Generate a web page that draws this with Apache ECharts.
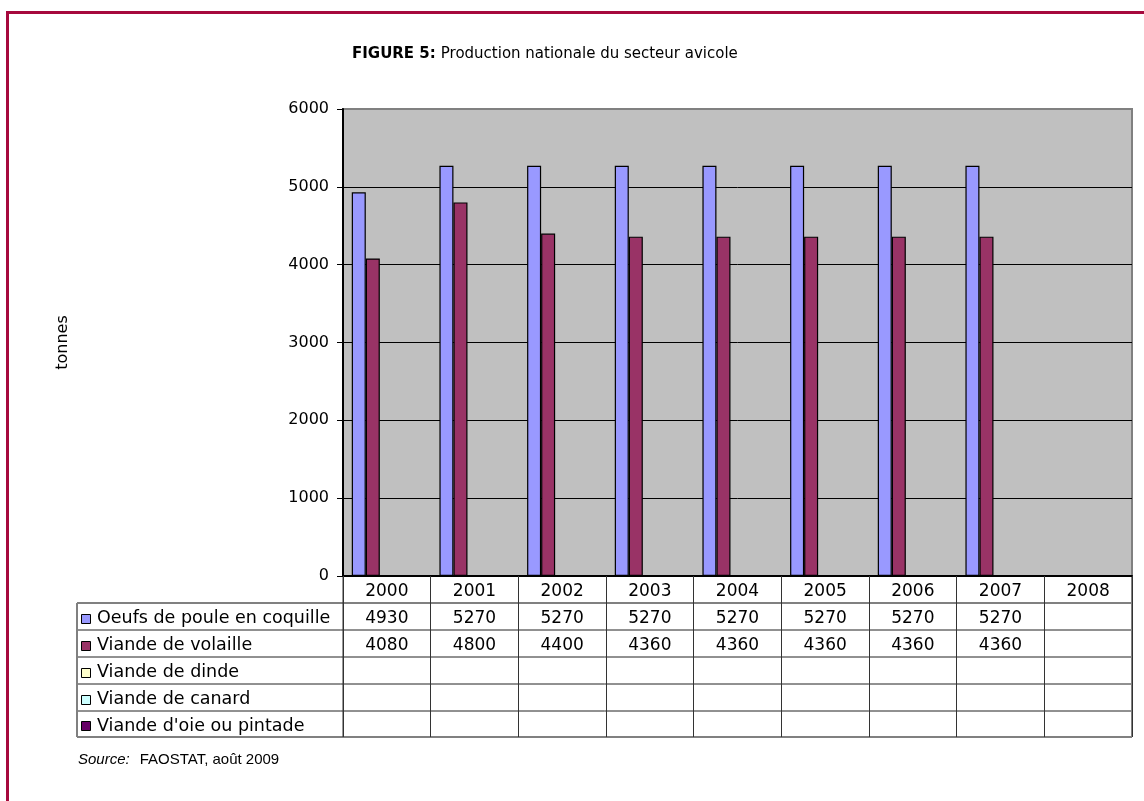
<!DOCTYPE html>
<html>
<head>
<meta charset="utf-8">
<script src="https://cdn.jsdelivr.net/npm/echarts@6/dist/echarts.min.js"></script>
<style>
html,body{margin:0;padding:0;background:#fff;}
#c{width:1144px;height:801px;}
</style>
</head>
<body>
<div id="c"></div>
<script>
const years = ['2000','2001','2002','2003','2004','2005','2006','2007','2008'];
const oeufs = [4930,5270,5270,5270,5270,5270,5270,5270,null];
const volaille = [4080,4800,4400,4360,4360,4360,4360,4360,null];
const dinde = [null,null,null,null,null,null,null,null,null];
const canard = [null,null,null,null,null,null,null,null,null];
const oie = [null,null,null,null,null,null,null,null,null];
const seriesNames = ['Oeufs de poule en coquille','Viande de volaille','Viande de dinde','Viande de canard',"Viande d'oie ou pintade"];
const seriesColors = ['#9999ff','#993366','#ffffcc','#ccffff','#660066'];
const seriesData = [oeufs, volaille, dinde, canard, oie];
const yMin = 0, yMax = 6000, yStep = 1000;

const FONT = 'DejaVu Sans';
const chart = echarts.init(document.getElementById('c'), null, {renderer:'canvas'});

const gridL = 343, gridT = 109, gridW = 789, gridH = 467;
const rowEdges = [576, 603, 630, 657, 684, 711, 737];
const nLines = Math.round((yMax - yMin) / yStep) + 1;
const splitColors = [];
for (let i = 0; i < nLines; i++) splitColors.push(i === nLines - 1 ? '#808080' : '#000');

chart.setOption({
  animation: false,
  title: {
    text: '{b|FIGURE 5:} {n|Production nationale du secteur avicole}',
    left: 347, top: 40,
    textStyle: { rich: {
      b: {fontFamily: FONT, fontWeight: 'bold', fontSize: 15, color: '#000'},
      n: {fontFamily: FONT, fontWeight: 'normal', fontSize: 15, color: '#000'}
    }}
  },
  grid: { left: gridL, top: gridT, width: gridW, height: gridH, show: true,
          backgroundColor: '#c0c0c0', borderColor: '#808080', borderWidth: 2 },
  xAxis: {
    type: 'category', data: years,
    axisLine: {show: true, lineStyle: {color: '#000', width: 2}},
    axisTick: {show: true, length: rowEdges[6] - rowEdges[0], lineStyle: {color: '#333', width: 1}},
    axisLabel: {fontFamily: FONT, fontSize: 17, color: '#000', margin: 7},
    splitLine: {show: false}
  },
  yAxis: {
    type: 'value', min: yMin, max: yMax, interval: yStep,
    name: 'tonnes', nameLocation: 'middle', nameGap: 272, nameRotate: 90,
    nameTextStyle: {fontFamily: FONT, fontSize: 16, color: '#000'},
    axisLine: {show: true, lineStyle: {color: '#000', width: 2}},
    axisTick: {show: true, length: 6, lineStyle: {color: '#000'}},
    axisLabel: {fontFamily: FONT, fontSize: 16, color: '#000', margin: 14, formatter: v => String(v)},
    splitLine: {show: true, lineStyle: {color: splitColors, width: 1}}
  },
  series: seriesData.map((d, i) => ({
    type: 'bar', name: seriesNames[i], data: d,
    barGap: '0%', barCategoryGap: '20%',
    itemStyle: {color: seriesColors[i], borderColor: '#000', borderWidth: 1.2}
  }))
});

const g = [];
const tableLeft = 77;
const right = gridL + gridW;
for (let r = 1; r < rowEdges.length; r++) {
  const outer = (r === 1 || r === rowEdges.length - 1);
  g.push({type:'line', shape:{x1: tableLeft, y1: rowEdges[r], x2: right, y2: rowEdges[r]},
          style:{stroke: outer ? '#808080' : '#222', lineWidth: outer ? 2 : 1}});
}
g.push({type:'line', shape:{x1: tableLeft, y1: rowEdges[1], x2: tableLeft, y2: rowEdges[6]}, style:{stroke:'#808080', lineWidth:2}});
g.push({type:'line', shape:{x1: right, y1: rowEdges[0], x2: right, y2: rowEdges[6]}, style:{stroke:'#808080', lineWidth:2}});
g.push({type:'line', shape:{x1: gridL, y1: rowEdges[0], x2: gridL, y2: rowEdges[6]}, style:{stroke:'#333', lineWidth:1}});
seriesNames.forEach((name, i) => {
  const yc = (rowEdges[i+1] + rowEdges[i+2]) / 2 + 2;
  g.push({type:'rect', shape:{x: 81.5, y: Math.round(yc) - 4.5, width: 9, height: 9},
          style:{fill: seriesColors[i], stroke:'#000', lineWidth:1}});
  g.push({type:'text', x: 97, y: yc, style:{text: name, font: '17.5px "' + FONT + '"', fill:'#000', textVerticalAlign:'middle', textAlign:'left'}});
  seriesData[i].forEach((v, j) => {
    if (v === null || v === undefined) return;
    const xc = chart.convertToPixel({xAxisIndex:0}, j);
    g.push({type:'text', x: xc, y: yc, style:{text: String(v), font: '17px "' + FONT + '"', fill:'#000', textAlign:'center', textVerticalAlign:'middle'}});
  });
});
g.push({type:'polyline', shape:{points:[[7.5, 801],[7.5, 12.5],[1144, 12.5]]}, style:{stroke:'#a6093d', lineWidth:3, fill:null}});
g.push({type:'text', x: 78, y: 752, style:{text:'{i|Source:}   {n|FAOSTAT, août 2009}', rich:{
  i:{fontFamily:'Liberation Sans', fontStyle:'italic', fontSize:15, fill:'#000'},
  n:{fontFamily:'Liberation Sans', fontSize:15, fill:'#000'}
}}});

chart.setOption({graphic: g});
</script>
</body>
</html>
